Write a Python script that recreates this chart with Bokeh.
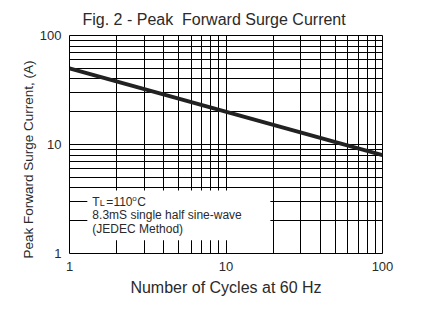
from bokeh.plotting import figure
from bokeh.models import FixedTicker, Label, BoxAnnotation, Title
from bokeh.embed import file_html
from bokeh.resources import INLINE

# data
cycles = [1, 100]
current = [50, 8]
x_major = [1, 10, 100]
y_major = [1, 10, 100]
grid_vals = [m * d for d in (1, 10) for m in range(1, 10)] + [100]

FONT = "Liberation Sans"
TXT = "#2a2a2a"

p = figure(width=423, height=321, x_axis_type="log", y_axis_type="log",
           x_range=(1, 100), y_range=(1, 100),
           output_backend="svg", toolbar_location=None,
           min_border_left=69, min_border_right=41, min_border_top=35, min_border_bottom=68)

p.title.text = "Fig. 2 - Peak\u00a0 Forward Surge Current"
p.title.align = "left"
p.title.offset = 13
p.title.standoff = 16
p.title.text_font = FONT
p.title.text_font_size = "16px"
p.title.text_font_style = "normal"
p.title.text_color = TXT

p.outline_line_color = "black"
p.outline_line_width = 1

for g, vals in ((p.xgrid, grid_vals), (p.ygrid, grid_vals)):
    g.ticker = FixedTicker(ticks=vals)
    g.grid_line_color = "black"
    g.grid_line_width = 1
    g.grid_line_alpha = 1.0

p.xaxis.ticker = FixedTicker(ticks=x_major)
p.yaxis.ticker = FixedTicker(ticks=y_major)
p.xaxis.major_label_overrides = {v: str(v) for v in x_major}
p.yaxis.major_label_overrides = {v: str(v) for v in y_major}

for ax in (p.xaxis[0], p.yaxis[0]):
    ax.axis_line_color = None
    ax.major_tick_line_color = None
    ax.minor_tick_line_color = None
    ax.major_label_text_font = FONT
    ax.major_label_text_font_size = "13px"
    ax.major_label_text_color = TXT
    ax.axis_label_text_font = FONT
    ax.axis_label_text_font_style = "normal"
    ax.axis_label_text_color = TXT
    ax.major_label_standoff = 2

p.xaxis.major_label_text_align = "left"
p.xaxis.axis_label = "Number of Cycles at 60 Hz"
p.xaxis.axis_label_text_font_size = "16px"
p.xaxis.axis_label_standoff = 5

# y axis title as a side title, starting just below the frame bottom like the reference
p.add_layout(Title(text="Peak Forward Surge Current, (A)", align="left", offset=-5,
                   standoff=2, text_font=FONT, text_font_size="13.5px",
                   text_font_style="normal", text_color=TXT), "left")

# annotation box
p.add_layout(BoxAnnotation(left=1.3, right=19.2, bottom=1.32, top=3.78,
                           fill_color="white", fill_alpha=1.0, line_color=None))

p.line(cycles, current, line_width=4, line_color="#222222")

tx, ty = 1.4, 3.45
lab_kw = dict(text_font=FONT, text_color=TXT, text_baseline="middle")
dy = -7
p.add_layout(Label(x=tx, y=ty, y_offset=dy, text="T", text_font_size="12px", **lab_kw))
p.add_layout(Label(x=tx, y=ty, x_offset=7.5, y_offset=dy - 1, text="L", text_font_size="9px", **lab_kw))
p.add_layout(Label(x=tx, y=ty, x_offset=14, y_offset=dy, text="=110", text_font_size="12px", **lab_kw))
p.add_layout(Label(x=tx, y=ty, x_offset=40, y_offset=dy + 3, text="o", text_font_size="8px", **lab_kw))
p.add_layout(Label(x=tx, y=ty, x_offset=45, y_offset=dy, text="C", text_font_size="12px", **lab_kw))
p.add_layout(Label(x=tx, y=ty, y_offset=dy - 13, text="8.3mS single half sine-wave", text_font_size="12px", **lab_kw))
p.add_layout(Label(x=tx, y=ty, y_offset=dy - 27, text="(JEDEC Method)", text_font_size="12px", **lab_kw))

open("out.html", "w").write(file_html(p, INLINE))
